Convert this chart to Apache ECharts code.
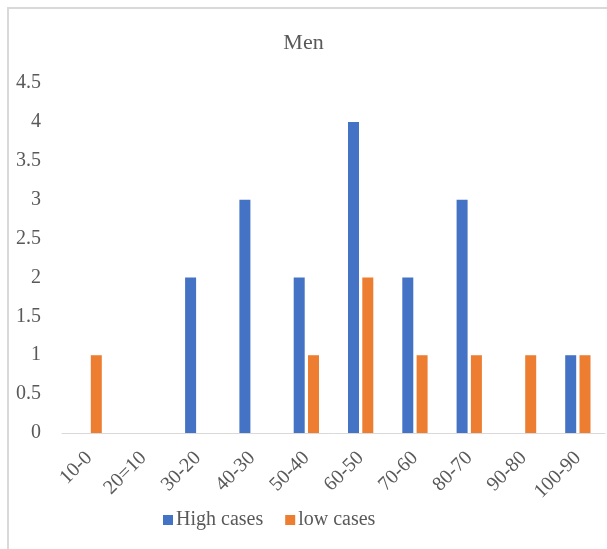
<!DOCTYPE html>
<html><head><meta charset="utf-8">
<script src="https://cdn.jsdelivr.net/npm/echarts@6/dist/echarts.min.js"></script>
<style>html,body{margin:0;padding:0;background:#fff}#c{width:607px;height:549px}</style>
</head><body><div id="c"></div>
<script>
const categories = ["10-0","20=10","30-20","40-30","50-40","60-50","70-60","80-70","90-80","100-90"];
const highCases = [0,0,2,3,2,4,2,3,0,1];
const lowCases = [1,0,0,0,1,2,1,1,1,1];
const yTicks = {min:0, max:4.5, interval:0.5};

const chart = echarts.init(document.getElementById('c'), null, {renderer:'canvas'});
const font = '"Liberation Serif","Times New Roman",serif';
chart.setOption({
  animation:false,
  backgroundColor:'#fff',
  graphic:[{type:'rect', shape:{x:8,y:8,width:620,height:560}, style:{fill:'none', stroke:'#d9d9d9', lineWidth:2}, silent:true}],
  title:{text:'Men', left:'center', top:27, textStyle:{fontFamily:font, fontSize:22, fontWeight:'normal', color:'#595959'}},
  legend:{top:505, left:158, itemWidth:10, itemHeight:10, itemGap:22, icon:'rect',
    textStyle:{fontFamily:font, fontSize:20, color:'#595959', padding:[0,0,0,-2]}},
  grid:{left:62, right:2, top:83, bottom:116, containLabel:false},
  xAxis:{type:'category', data:categories,
    axisLine:{lineStyle:{color:'#d9d9d9'}}, axisTick:{show:false},
    axisLabel:{rotate:45, fontFamily:font, fontSize:20, color:'#595959', interval:0, margin:22}},
  yAxis:{type:'value', min:yTicks.min, max:yTicks.max, interval:yTicks.interval,
    splitLine:{show:false}, axisLine:{show:false}, axisTick:{show:false},
    axisLabel:{fontFamily:font, fontSize:20, color:'#595959', margin:21,
      formatter:v=>String(v)}},
  series:[
    {name:'High cases', type:'bar', data:highCases, barWidth:11, barGap:'30%', itemStyle:{color:'#4472C4'}},
    {name:'low cases', type:'bar', data:lowCases, barWidth:11, barGap:'30%', itemStyle:{color:'#ED7D31'}}
  ]
});
</script></body></html>
